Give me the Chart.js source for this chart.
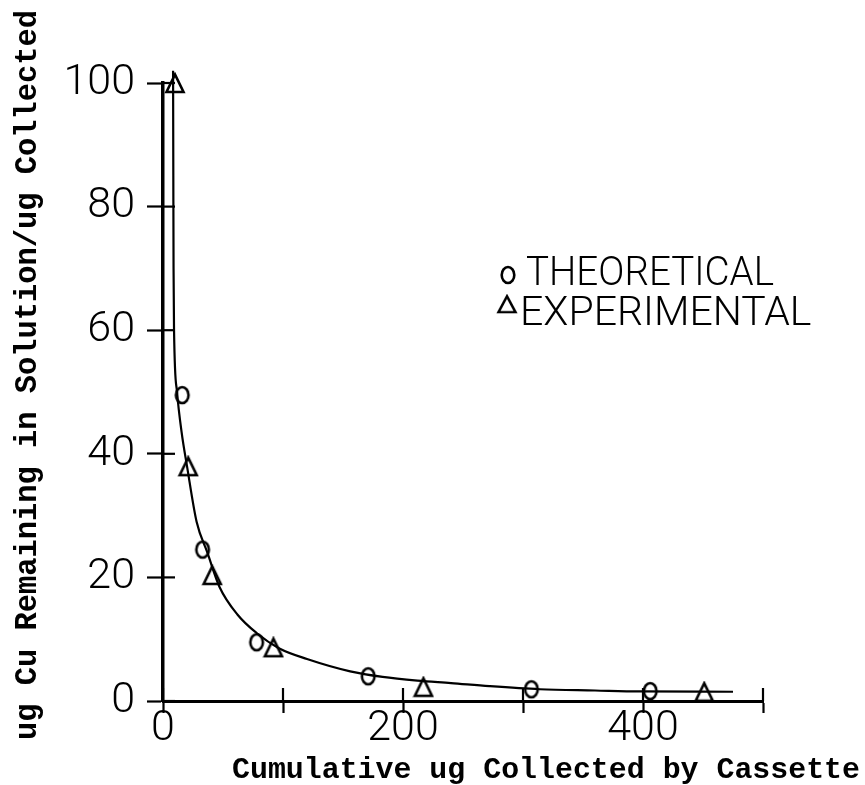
<!DOCTYPE html>
<html><head><meta charset="utf-8">
<script src="https://cdn.jsdelivr.net/npm/chart.js@4"></script>
<style>html,body{margin:0;padding:0;background:#fff}#wrap{width:865px;height:785px;position:relative}</style>
</head><body><div id="wrap"><canvas id="c" width="865" height="785"></canvas></div>
<script>
// ---- data ----
const xTicks = [0, 100, 200, 300, 400, 500];
const xTickLabels = ['0', '', '200', '', '400', ''];
const yTicks = [0, 20, 40, 60, 80, 100];
const yTickLabels = ['0', '20', '40', '60', '80', '100'];

const theoLabel = 'THEORETICAL';
const theoX = [16, 33, 78, 171, 307, 406];
const theoY = [49.5, 24.5, 9.5, 4.0, 1.9, 1.6];

const expLabel = 'EXPERIMENTAL';
const expX = [10, 21, 41, 92, 217, 451];
const expY = [100, 38, 20.4, 8.7, 2.3, 1.5];

const curveX = [8.4, 8.6, 8.8, 9.2, 11.7, 15.5, 20, 28, 37, 47, 62, 78, 97, 120, 156, 183, 212, 240, 272, 314, 360, 397, 475];
const curveY = [102, 85, 70, 60, 50, 43.5, 38, 29, 24, 18.5, 14, 11, 8.5, 6.8, 4.8, 3.9, 3.3, 2.9, 2.4, 1.9, 1.7, 1.55, 1.5];

const xTitle = 'Cumulative ug Collected by Cassette';
const yTitle = 'ug Cu Remaining in Solution/ug Collected';

// ---- marker images ----
function makeEllipse() {
  const c = document.createElement('canvas'); c.width = 20; c.height = 22;
  const g = c.getContext('2d'); g.strokeStyle = '#000'; g.lineWidth = 2.6;
  g.beginPath(); g.ellipse(10, 11, 6.3, 8, 0, 0, Math.PI * 2); g.stroke();
  return c;
}
function makeTriangle() {
  const c = document.createElement('canvas'); c.width = 22; c.height = 22;
  const g = c.getContext('2d'); g.strokeStyle = '#000'; g.lineWidth = 2.6; g.lineJoin = 'miter';
  g.beginPath(); g.moveTo(11, 2.5); g.lineTo(2.5, 20); g.lineTo(19.5, 20); g.closePath(); g.stroke();
  return c;
}
const circleImg = makeEllipse();
const triImg = makeTriangle();

const pts = (xs, ys) => xs.map((x, i) => ({x, y: ys[i]}));

const tickFont = {family: 'Roboto', weight: 300, size: 43};

const extras = {
  id: 'extras',
  afterDraw(chart) {
    const {ctx, scales: {x, y}} = chart;
    ctx.save();
    ctx.strokeStyle = '#000'; ctx.lineWidth = 2.2;
    // inner halves of the crossing tick marks
    xTicks.forEach(v => {
      const px = x.getPixelForValue(v);
      ctx.beginPath(); ctx.moveTo(px, y.bottom); ctx.lineTo(px, y.bottom - 13); ctx.stroke();
    });
    yTicks.forEach(v => {
      const py = y.getPixelForValue(v);
      ctx.beginPath(); ctx.moveTo(x.left, py); ctx.lineTo(x.left + 12, py); ctx.stroke();
    });
    // axis titles
    ctx.fillStyle = '#000';
    ctx.font = 'bold 30px "Liberation Mono"';
    ctx.textAlign = 'left'; ctx.textBaseline = 'alphabetic';
    ctx.fillText(xTitle, 232, 778, 628);
    ctx.save();
    ctx.translate(36, 375); ctx.rotate(-Math.PI / 2);
    ctx.font = 'bold 32px "Liberation Mono"';
    ctx.textAlign = 'center';
    ctx.fillText(yTitle, 0, 0, 730);
    ctx.restore();
    // legend
    ctx.font = '300 41px Roboto';
    ctx.textAlign = 'left'; ctx.textBaseline = 'alphabetic';
    const ds = chart.data.datasets;
    ctx.drawImage(circleImg, 498, 264);
    ctx.fillText(ds[1].label, 526, 285, 248);
    ctx.drawImage(triImg, 496, 294, 22, 20);
    ctx.fillText(ds[2].label, 520, 325, 298);
    ctx.restore();
  }
};

new Chart(document.getElementById('c'), {
  type: 'scatter',
  data: {
    datasets: [
      {label: 'curve', data: pts(curveX, curveY), showLine: true, borderColor: '#000', borderWidth: 2.2,
       pointRadius: 0, cubicInterpolationMode: 'monotone', clip: false, fill: false},
      {label: theoLabel, data: pts(theoX, theoY), pointStyle: circleImg, pointRadius: 8, clip: false},
      {label: expLabel, data: pts(expX, expY), pointStyle: triImg, pointRadius: 10, clip: false}
    ]
  },
  options: {
    responsive: false, animation: false, devicePixelRatio: 1,
    layout: {padding: {left: 0, top: 83, right: 102, bottom: 0}},
    plugins: {legend: {display: false}, tooltip: {enabled: false}},
    scales: {
      x: {
        type: 'linear', position: 'bottom', min: 0, max: 500,
        afterFit: s => { s.height = 84; },
        afterBuildTicks: s => { s.ticks = xTicks.map(v => ({value: v})); },
        ticks: {autoSkip: false, maxRotation: 0, padding: -10, color: '#000', font: tickFont,
                callback: v => xTickLabels[xTicks.indexOf(v)]},
        grid: {drawOnChartArea: false, drawTicks: true, tickLength: 12, tickWidth: 2.2, tickColor: '#000'},
        border: {display: true, color: '#000', width: 3}
      },
      y: {
        type: 'linear', position: 'left', min: 0, max: 100,
        afterFit: s => { s.width = 163; },
        afterBuildTicks: s => { s.ticks = yTicks.map(v => ({value: v})); },
        ticks: {autoSkip: false, padding: 12, color: '#000', font: tickFont,
                callback: v => yTickLabels[yTicks.indexOf(v)]},
        grid: {drawOnChartArea: false, drawTicks: true, tickLength: 16, tickWidth: 2.2, tickColor: '#000'},
        border: {display: true, color: '#000', width: 3.5}
      }
    }
  },
  plugins: [extras]
});
</script>
</body></html>
